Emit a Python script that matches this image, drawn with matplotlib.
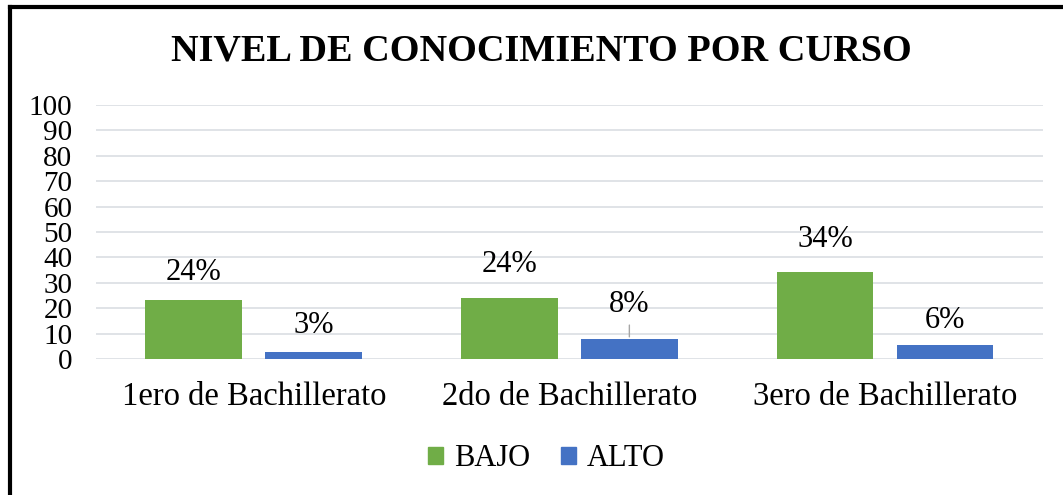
"""
Nivel de conocimiento por curso - barras agrupadas BAJO / ALTO
"""
import matplotlib
matplotlib.use("Agg")
import matplotlib.pyplot as plt
from matplotlib.lines import Line2D
from matplotlib.patches import Patch
import numpy as np

plt.rcParams["font.family"] = ["Liberation Serif", "DejaVu Serif"]

# ── datos ──────────────────────────────────────────────
cursos = ["1ero de Bachillerato", "2do de Bachillerato", "3ero de Bachillerato"]
bajo = [23.3, 23.9, 34.1]
alto = [2.9, 7.9, 5.5]
bajo_etiquetas = ["24%", "24%", "34%"]
alto_etiquetas = ["3%", "8%", "6%"]

COLOR_BAJO = "#70AD47"
COLOR_ALTO = "#4472C4"

fig = plt.figure(figsize=(10.63, 4.95), dpi=100)
ax = fig.add_axes([0.0903, 0.2747, 0.8907, 0.5133])

x = np.arange(len(cursos))
ancho = 0.307
off = 0.19
ax.bar(x - off, bajo, ancho, color=COLOR_BAJO, zorder=3)
ax.bar(x + off, alto, ancho, color=COLOR_ALTO, zorder=3)

# etiquetas de datos (desplazadas hacia arriba, como en Excel)
off_bajo = [20, 24, 24]
off_alto = [19, 25, 18]
for i in range(len(cursos)):
    ax.annotate(bajo_etiquetas[i], (x[i] - off, bajo[i]), xytext=(0, off_bajo[i]),
                textcoords="offset points", ha="center", va="center", fontsize=22)
    ax.annotate(alto_etiquetas[i], (x[i] + off, alto[i]), xytext=(0, off_alto[i]),
                textcoords="offset points", ha="center", va="center", fontsize=22)
# línea guía del 8%
ax.annotate("", (x[1] + off, alto[1]), xytext=(0, 10), textcoords="offset points",
            arrowprops=dict(arrowstyle="-", color="#A6A6A6", lw=1, shrinkA=0, shrinkB=1.5))

ax.set_xlim(-0.5, 2.5)
ax.set_ylim(0, 100)
ax.set_yticks(range(0, 101, 10))
ax.set_xticks(x)
ax.set_xticklabels(cursos, fontsize=23.5)
ax.tick_params(axis="y", length=0, labelsize=21, pad=17)
ax.tick_params(axis="x", length=0, pad=16)
ax.grid(axis="y", color="#DDE0E5", linewidth=1.3, zorder=0)
ax.set_axisbelow(True)
for s in ax.spines.values():
    s.set_visible(False)

fig.text(0.509, 0.897, "NIVEL DE CONOCIMIENTO POR CURSO", ha="center", va="center",
         fontsize=27.5, fontweight="bold")

handles = [Patch(color=COLOR_BAJO, label="BAJO"), Patch(color=COLOR_ALTO, label="ALTO")]
fig.legend(handles=handles, loc="center", bbox_to_anchor=(0.514, 0.073), ncol=2,
           frameon=False, fontsize=22, handlelength=0.5, handleheight=0.5,
           handletextpad=0.35, columnspacing=1.0)

# marco (solo arriba e izquierda visibles)
fig.add_artist(Line2D([0.009, 1.0], [0.986, 0.986], transform=fig.transFigure,
                      color="black", lw=3))
fig.add_artist(Line2D([0.009, 0.009], [0.0, 0.986], transform=fig.transFigure,
                      color="black", lw=3))

fig.savefig("out.png", dpi=100, facecolor="white")
